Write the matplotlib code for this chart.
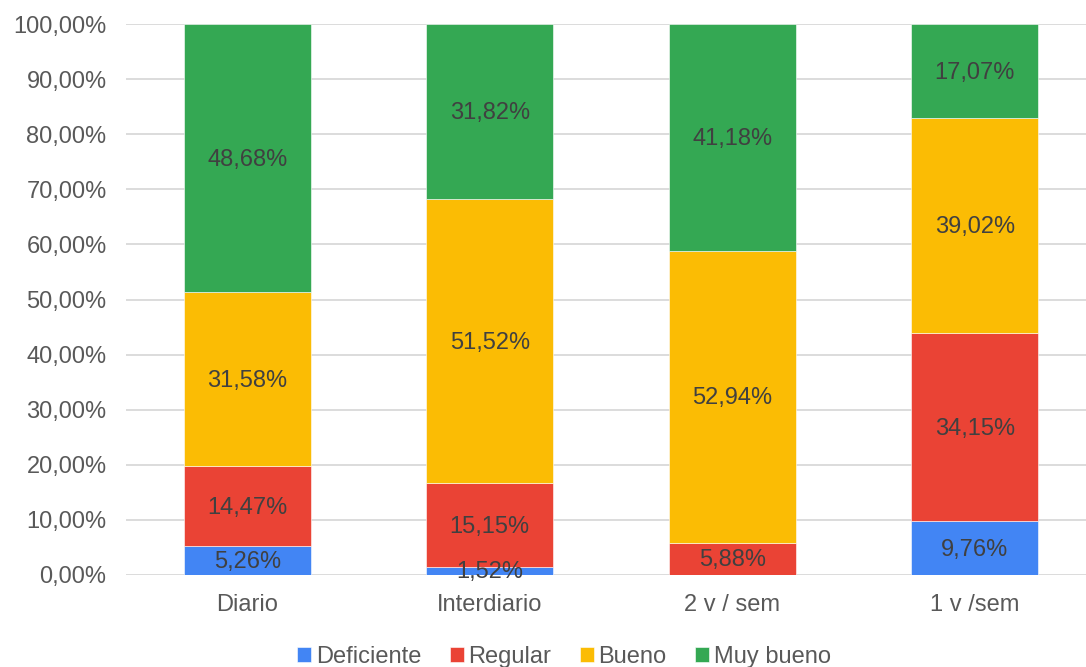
import matplotlib
matplotlib.use("Agg")
import matplotlib.pyplot as plt
import numpy as np
from matplotlib.ticker import FuncFormatter

categories = ["Diario", "Interdiario", "2 v / sem", "1 v /sem"]
series_names = ["Deficiente", "Regular", "Bueno", "Muy bueno"]
deficiente = [5.26, 1.52, 0.0, 9.76]
regular = [14.47, 15.15, 5.88, 34.15]
bueno = [31.58, 51.52, 52.94, 39.02]
muy_bueno = [48.68, 31.82, 41.18, 17.07]
colors = ["#4285F4", "#EA4335", "#FBBC04", "#34A853"]

plt.rcParams['font.family'] = ['Liberation Sans', 'DejaVu Sans']

W, H = 1086, 667
fig = plt.figure(figsize=(W / 100, H / 100), dpi=100)
left, right = 126, 1096
top, bottom = 24, 575
ax = fig.add_axes([left / W, 1 - bottom / H, (right - left) / W, (bottom - top) / H])

FS = 17
x = np.arange(len(categories))
base = np.zeros(len(categories))
for name, vals, c in zip(series_names, [deficiente, regular, bueno, muy_bueno], colors):
    vals = np.array(vals)
    ax.bar(x, vals, 0.524, bottom=base, color=c, label=name, zorder=3,
           edgecolor="white", linewidth=0.4)
    for xi, b, v in zip(x, base, vals):
        if v > 0:
            ax.text(xi, b + v / 2 - 0.3, f"{v:.2f}%".replace(".", ","), ha="center", va="center",
                    fontsize=FS, color="#404040", zorder=4)
    base = base + vals

ax.set_xlim(-0.5, 3.5)
ax.set_ylim(0, 100)
ax.set_yticks(np.arange(0, 101, 10))
ax.yaxis.set_major_formatter(FuncFormatter(lambda v, p: f"{v:.2f}%".replace(".", ",")))
ax.set_xticks(x)
ax.set_xticklabels(categories)
ax.tick_params(axis="both", length=0, labelsize=FS, labelcolor="#595959")
ax.tick_params(axis="y", pad=14)
ax.tick_params(axis="x", pad=14)
ax.grid(axis="y", color="#d9d9d9", linewidth=1.3, zorder=0)
for s in ax.spines.values():
    s.set_visible(False)

handles, labels = ax.get_legend_handles_labels()
leg = fig.legend(handles, labels, loc="center", bbox_to_anchor=(564 / W, 1 - 657 / H),
                 ncol=4, frameon=False, fontsize=FS, handlelength=0.6, handleheight=0.6,
                 handletextpad=0.2, columnspacing=1.2)
for t in leg.get_texts():
    t.set_color("#595959")

fig.savefig("out.png", dpi=100)
